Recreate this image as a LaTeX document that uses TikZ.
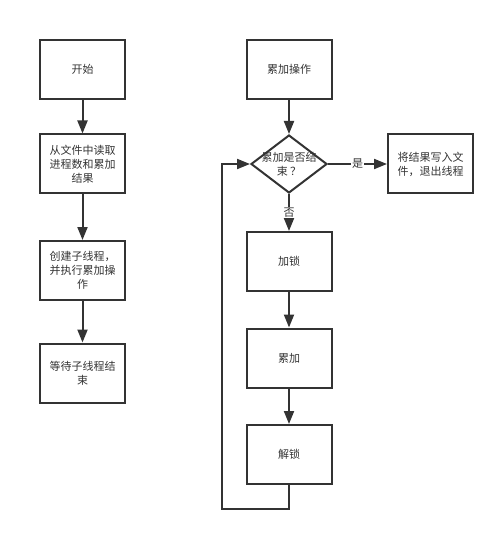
\documentclass[tikz,border=0pt]{standalone}
\usepackage{fontspec}
\setmainfont{Noto Sans CJK SC}
\usetikzlibrary{arrows.meta,shapes.geometric}
\definecolor{linegray}{HTML}{333333}
\tikzset{
    box/.style={draw=linegray, line width=2pt, minimum width=85pt, minimum height=59pt,
        text width=70pt, align=center, inner sep=0pt, text=linegray, font=\fontsize{11pt}{14pt}\selectfont},
    decision/.style={draw=linegray, line width=2pt, diamond, minimum width=76pt, minimum height=58pt,
        inner sep=0pt},
    flow/.style={draw=linegray, line width=2pt, -{Triangle[length=13pt,width=10pt]}},
    tag/.style={fill=white, inner sep=1pt, text=linegray, font=\fontsize{11pt}{14pt}\selectfont},
}

\begin{document}
\begin{tikzpicture}[x=1pt,y=-1pt]
\useasboundingbox (0,0) rectangle (500,537);

%left column
\node[box] (start) at (82.5,69.5) {开始};
\node[box] (read) at (82.5,164) {从文件中读取\\进程数和累加\\结果};
\node[box] (create) at (82.5,270.5) {创建子线程，\\并执行累加操\\作};
\node[box] (wait) at (82.5,373) {等待子线程结\\束};

%right column
\node[box] (accum) at (289,69.5) {累加操作};
\node[decision, label={[align=center, text=linegray, font=\fontsize{11pt}{14pt}\selectfont]center:累加是否结\\束 ？}] (check) at (289,164) {};
\node[box] (write) at (430.5,164) {将结果写入文\\件，退出线程};
\node[box] (lock) at (289,261.5) {加锁};
\node[box] (add) at (289,358) {累加};
\node[box] (unlock) at (289,454.5) {解锁};

\coordinate (loopa) at (289,509);
\coordinate (loopb) at (222,509);
\coordinate (loopc) at (222,164);

\draw[flow] (start) -- (read);
\draw[flow] (read) -- (create);
\draw[flow] (create) -- (wait);

\draw[flow] (accum) -- (check);
\draw[flow] (check) -- node[tag] {是} (write);
\draw[flow] (check) -- node[tag] {否} (lock);
\draw[flow] (lock) -- (add);
\draw[flow] (add) -- (unlock);
\draw[flow] (unlock.south) -- (loopa) -- (loopb) -- (loopc) -- (check.west);
\end{tikzpicture}
\end{document}
